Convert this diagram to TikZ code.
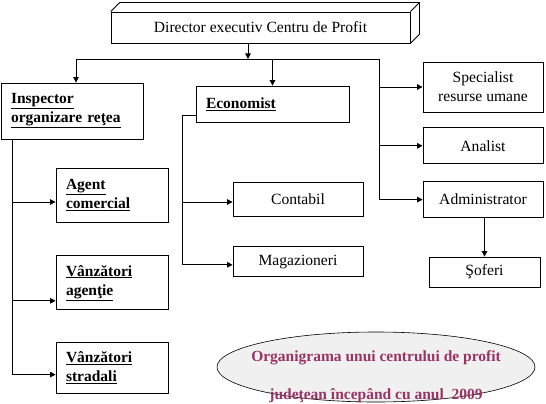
\documentclass[tikz,border=0pt]{standalone}
\usepackage{fontspec}
\setmainfont{Liberation Serif}
\usepackage{tikz}
\usetikzlibrary{positioning,arrows.meta,calc,shapes.geometric}
\definecolor{titleplum}{HTML}{993366}
\definecolor{granite}{HTML}{F0F0F0}
\definecolor{inkblack}{HTML}{000000}
\tikzset{
  >={Triangle[length=5pt,width=5pt]},
  every node/.style={text=inkblack},
  unitbox/.style={draw=inkblack, line width=0.8pt, fill=white, inner sep=0pt, align=center,
    font=\fontsize{15.6}{19}\selectfont},
  leadbox/.style={draw=inkblack, line width=0.8pt, fill=white, inner xsep=10pt, inner ysep=0pt, align=left,
    font=\fontsize{15.5}{19}\selectfont\bfseries},
  flow/.style={-{Triangle[length=5.5pt,width=5.5pt]}, line width=0.8pt, draw=inkblack},
  link/.style={line width=0.8pt, draw=inkblack},
  titleell/.style={ellipse, draw=inkblack, line width=0.6pt, fill=granite, inner sep=0pt},
  titletxt/.style={align=center, text=titleplum, font=\fontsize{15.5}{19}\selectfont\bfseries},
}

\begin{document}
\begin{tikzpicture}[x=1pt, y=-1pt]
  \useasboundingbox[fill=white] (0,0) rectangle (546,404);

  % 1. DIRECTORUL (cutie 3D)
  \node[unitbox, minimum width=299pt, minimum height=31pt] (dir) at (260.5,27.5) {Director executiv Centru de Profit};
  \draw[link] (dir.north west) -- ++(9pt,9pt) -- ([shift={(9pt,9pt)}]dir.north east)
    -- ([shift={(9pt,9pt)}]dir.south east) -- (dir.south east);
  \draw[link] (dir.north east) -- ++(9pt,9pt);

  % 2. COLOANA STANGA: INSPECTOR SI SUBORDONATI
  \node[leadbox, text width=122pt, minimum height=56pt] (insp) at (72,111) {\underline{Inspector}\\\underline{organizare reţea}};
  \node[leadbox, text width=92pt, minimum height=54pt] (agent) at (112,195) {\underline{Agent}\\\underline{comercial}};
  \node[leadbox, text width=92pt, minimum height=54pt, below=33pt of agent] (vagent) {\underline{Vânzători}\\\underline{agenţie}};
  \node[leadbox, text width=92pt, minimum height=51pt, below=32pt of vagent] (vstrad) {\underline{Vânzători}\\\underline{stradali}};

  % 3. COLOANA MIJLOC: ECONOMIST SI SUBORDONATI
  \node[leadbox, text width=133pt, minimum height=36pt] (econ) at (272.5,104) {\underline{Economist}};
  \node[unitbox, minimum width=130pt, minimum height=34pt] (contabil) at (298,199) {Contabil};
  \node[unitbox, minimum width=130pt, minimum height=30pt, below=30pt of contabil] (magaz) {Magazioneri};

  % 4. COLOANA DREAPTA
  \node[unitbox, minimum width=120pt, minimum height=50pt] (spec) at (483,87) {Specialist\\resurse umane};
  \node[unitbox, minimum width=120pt, minimum height=36pt, below=15pt of spec] (analist) {Analist};
  \node[unitbox, minimum width=120pt, minimum height=36pt, below=17pt of analist] (admin) {Administrator};
  \node[unitbox, minimum width=111pt, minimum height=30pt] (sofer) at (484.5,272) {Şoferi};

  % 5. TITLUL IN ELIPSA
  \node[titleell, minimum width=318pt, minimum height=70pt] (title) at (376,367) {};
  \node[titletxt] (titletext) at ([yshift=-10pt]title.center) {Organigrama unui centrului de profit\\[19pt]judeţean începând cu anul\ \ 2009};

  % ==========================================
  % LEGATURI IERARHICE
  % ==========================================
  \coordinate (busL) at (76,59);
  \coordinate (busR) at (379,59);
  \draw[flow] ([xshift=-12.5pt]dir.south) -- ([xshift=-12.5pt]dir.south |- busL);
  \draw[link] (busL) -- (busR);
  \draw[flow] (busL) -- (busL |- insp.north);
  \draw[flow] (econ.north |- busL) -- (econ.north);

  % ramura dreapta
  \draw[link] (busR) -- (busR |- admin.west);
  \draw[flow] (busR |- spec.west) -- (spec.west);
  \draw[flow] (busR |- analist.west) -- (analist.west);
  \draw[flow] (busR |- admin.west) -- (admin.west);
  \draw[flow] (admin.south -| sofer.north) -- (sofer.north);

  % ramura inspectorului
  \coordinate (ltop) at ([xshift=12pt]insp.south west);
  \draw[flow] (ltop) |- ([yshift=-7pt]agent.west);
  \draw[flow] (ltop) |- ([yshift=-18pt]vagent.west);
  \draw[flow] (ltop) |- ([yshift=-6.5pt]vstrad.west);

  % ramura economistului
  \coordinate (etop) at ([xshift=-13pt,yshift=-11pt]econ.west);
  \draw[link] ([yshift=-11pt]econ.west) -- (etop);
  \draw[flow] (etop) |- ([yshift=-3pt]contabil.west);
  \draw[flow] (etop) |- ([yshift=-3pt]magaz.west);

\end{tikzpicture}
\end{document}
